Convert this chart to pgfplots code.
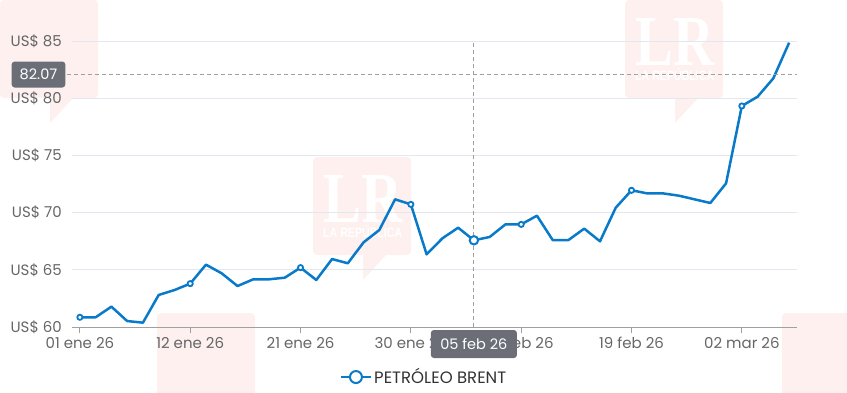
\documentclass[border=0pt]{standalone}
\usepackage{fontspec}
\setmainfont{Poppins}
\newfontfamily\wmfont{Liberation Serif}
\newfontfamily\wmsans{Liberation Sans}
\usepackage{pgfplots}
\pgfplotsset{compat=1.18}
\definecolor{brent}{RGB}{8,122,201}
\definecolor{gridc}{RGB}{226,231,240}
\definecolor{ticklab}{RGB}{102,102,102}
\definecolor{axisc}{RGB}{160,160,160}
\definecolor{tip}{RGB}{107,110,119}
\definecolor{wm}{RGB}{253,240,238}
\definecolor{legtext}{RGB}{51,51,51}
\newcommand{\wmbox}[2]{%
 \begin{scope}[shift={(#1pt,{392pt-#2pt})}]
  \fill[wm, rounded corners=4pt] (0pt,0pt) rectangle (98pt,-98pt);
  \fill[wm] (50pt,-96pt) -- (50pt,-123pt) -- (75pt,-96pt) -- cycle;
 \end{scope}}
\newcommand{\wmlogo}[2]{%
 \wmbox{#1}{#2}%
 \begin{scope}[shift={(#1pt,{392pt-#2pt})}]
  \node[white, inner sep=0pt, anchor=north west] at (10pt,-18pt) {\resizebox{79pt}{47pt}{\wmfont\bfseries LR}};
  \node[white, inner sep=0pt, anchor=south west] at (10pt,-81pt) {\resizebox{79pt}{12pt}{\wmsans\bfseries LA REPÚBLICA}};
 \end{scope}}
\pgfplotstableread{
i v
0 60.85
1 60.85
2 61.78
3 60.52
4 60.38
5 62.80
6 63.23
7 63.79
8 65.45
9 64.69
10 63.58
11 64.17
12 64.17
13 64.31
14 65.19
15 64.11
16 65.94
17 65.57
18 67.40
19 68.48
20 71.16
21 70.72
22 66.35
23 67.75
24 68.68
25 67.58
26 67.87
27 68.97
28 68.97
29 69.73
30 67.60
31 67.60
32 68.60
33 67.49
34 70.43
35 71.95
36 71.68
37 71.68
38 71.48
39 71.16
40 70.84
41 72.56
42 79.32
43 80.13
44 81.74
45 84.85
}\brent
\begin{document}
\begin{tikzpicture}
\useasboundingbox (0pt,0pt) rectangle (847pt,392pt);
\wmbox{0}{0}
\wmlogo{625}{0}
\wmlogo{313}{157}
\wmbox{157}{313}
\wmbox{782}{313}
\begin{axis}[
 at={(72pt,65pt)}, anchor=south west,
 scale only axis, width=725pt, height=286pt,
 xmin=-0.5, xmax=45.5, ymin=60, ymax=85,
 clip=false,
 axis x line*=bottom, axis y line*=left,
 y axis line style={draw=none},
 x axis line style={draw=axisc, line width=0.9pt, -},
 ytick={60,65,70,75,80,85},
 yticklabels={US\$ 60,US\$ 65,US\$ 70,US\$ 75,US\$ 80,US\$ 85},
 xtick={0,7,14,21,28,35,42},
 xticklabels={01 ene 26,12 ene 26,21 ene 26,30 ene 26,10 feb 26,19 feb 26,02 mar 26},
 ymajorgrids, grid style={gridc, line width=0.9pt},
 ytick style={draw=none},
 xtick style={draw=axisc, line width=0.9pt},
 tick align=outside, major tick length=6pt,
 ticklabel style={font=\fontsize{15}{17}\selectfont, text=ticklab},
 yticklabel style={anchor=east, inner sep=0pt, xshift=-4pt},
 xticklabel style={anchor=north, inner sep=0pt, yshift=-4pt},
 legend style={at={(axis description cs:0.4855,-0.175)}, anchor=center, draw=none, fill=none,
   font=\fontsize{16.5}{18}\selectfont, text=legtext},
 legend image code/.code={\draw[brent, line width=2.5pt] (0pt,0pt) -- (30pt,0pt);
   \draw[brent, line width=2pt, fill=white] (15pt,0pt) circle (6pt);},
]
\addplot[brent, line width=2.5pt, line join=round, no marks] table[x=i,y=v] {\brent};
\addlegendentry{PETRÓLEO BRENT}
\addplot[only marks, mark=*, mark size=2.6pt, mark options={draw=brent, fill=white, line width=1.8pt}, forget plot]
 coordinates {(0,60.85) (7,63.79) (14,65.19) (21,70.72) (28,68.97) (35,71.95) (42,79.32)};
\addplot[only marks, mark=*, mark size=4.2pt, mark options={draw=brent, fill=white, line width=2pt}, forget plot]
 coordinates {(25,67.58)};
\draw[axisc, line width=0.9pt, dash pattern=on 4pt off 3pt] (axis cs:25,60) -- (axis cs:25,85);
\draw[axisc, line width=0.9pt, dash pattern=on 4pt off 3pt] ([xshift=-5pt]axis cs:-0.5,82.07) -- (axis cs:45.5,82.07);
\node[fill=tip, rounded corners=3pt, text=white, font=\fontsize{14.5}{16}\selectfont, inner xsep=9.5pt, minimum height=28pt] at ([yshift=-17pt]axis cs:25,60) {05 feb 26};
\node[fill=tip, rounded corners=3pt, text=white, font=\fontsize{14.5}{16}\selectfont, inner xsep=8pt, minimum height=26pt] at ([xshift=-33.5pt]axis cs:-0.5,82.07) {82.07};
\end{axis}
\end{tikzpicture}
\end{document}
